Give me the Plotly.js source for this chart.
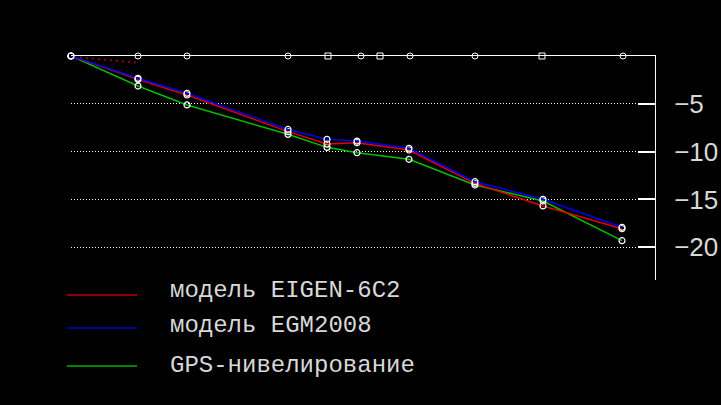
<!DOCTYPE html>
<html>
<head>
<meta charset="utf-8">
<script src="https://cdn.plot.ly/plotly-3.0.1.min.js"></script>
<style>html,body{margin:0;padding:0;background:#000;}#chart{width:721px;height:405px;}</style>
</head>
<body>
<div id="chart"></div>
<script>
// Station positions along the profile (arbitrary distance units)
const stationX = [0, 6.7, 11.6, 21.7, 25.7, 29.0, 30.9, 33.9, 40.4, 47.1, 55.2];
const stationY = [0, 0, 0, 0, 0, 0, 0, 0, 0, 0, 0];
const stationSymbols = ['circle-open','circle-open','circle-open','circle-open','square-open','circle-open','square-open','circle-open','circle-open','square-open','circle-open'];

// Profile points
const pointX = [0, 6.7, 11.6, 21.7, 25.6, 28.6, 33.8, 40.4, 47.2, 55.1];
const eigen6c2 = [0, -2.44, -4.08, -7.91, -9.20, -9.06, -9.83, -13.33, -15.68, -18.06];
const egm2008  = [0, -2.33, -3.90, -7.68, -8.71, -8.89, -9.65, -13.14, -14.98, -17.91];
const gpsLevel = [0, -3.14, -5.12, -8.19, -9.55, -10.11, -10.80, -13.49, -15.16, -19.31];

// small dotted fragment near the start
const fragX = [0.9, 6.7];
const fragY = [-0.14, -0.70];

const seriesNames = ['модель EIGEN-6C2', 'модель EGM2008', 'GPS-нивелирование'];
const seriesColors = ['#e00000', '#0000ee', '#00c000'];
const legendColors = ['#c00000', '#0000c0', '#00b000'];

const tickVals = [-5, -10, -15, -20];
const tickText = ['\u22125', '\u221210', '\u221215', '\u221220'];

const markerStyle = {symbol: 'circle-open', size: 6, color: '#ffffff', line: {width: 1.2, color: '#ffffff'}};

const traces = [
  {x: stationX, y: stationY, mode: 'markers', cliponaxis: false, showlegend: false,
   marker: {symbol: stationSymbols, size: 6, color: '#ffffff', line: {width: 1, color: '#ffffff'}}, hoverinfo: 'skip'},
  {x: fragX, y: fragY, mode: 'lines', showlegend: false,
   line: {color: '#900000', width: 2, dash: '2px,4px'}, hoverinfo: 'skip'},
  {x: pointX, y: gpsLevel, name: seriesNames[2], mode: 'lines+markers', cliponaxis: false,
   line: {color: seriesColors[2], width: 1.5}, marker: markerStyle},
  {x: pointX, y: eigen6c2, name: seriesNames[0], mode: 'lines+markers', cliponaxis: false,
   line: {color: seriesColors[0], width: 1.5}, marker: markerStyle},
  {x: pointX, y: egm2008, name: seriesNames[1], mode: 'lines+markers', cliponaxis: false,
   line: {color: seriesColors[1], width: 1.5}, marker: markerStyle}
];

// Legend drawn below the plot
const legendY = [-0.067, -0.214, -0.384];
const legendTextOffset = [0.02, 0.011, 0.002];
const shapes = [];
const annotations = [];
for (let i = 0; i < 3; i++) {
  shapes.push({type: 'line', xref: 'paper', yref: 'paper', x0: -0.007, x1: 0.113,
    y0: legendY[i], y1: legendY[i], line: {color: legendColors[i], width: 1.5}});
  annotations.push({xref: 'paper', yref: 'paper', x: 0.166, y: legendY[i] + legendTextOffset[i],
    xanchor: 'left', yanchor: 'middle', showarrow: false, text: seriesNames[i],
    font: {family: 'Liberation Mono, DejaVu Sans Mono, monospace', size: 24, color: '#d8d8d8'}});
}

const layout = {
  width: 721, height: 405,
  paper_bgcolor: '#000000', plot_bgcolor: '#000000',
  margin: {l: 71, r: 66, t: 56, b: 125, pad: 0},
  showlegend: false,
  xaxis: {range: [0, 58.4], side: 'top', showline: true, linecolor: '#ffffff', linewidth: 1,
    showgrid: false, zeroline: false, showticklabels: false, ticks: '', fixedrange: true},
  yaxis: {range: [-23.42, 0], side: 'right', showline: true, linecolor: '#ffffff', linewidth: 1,
    showgrid: true, gridcolor: '#ffffff', gridwidth: 1, griddash: '1px,2px',
    zeroline: false, ticks: 'inside', ticklen: 17, tickwidth: 2, tickcolor: '#ffffff',
    tickvals: tickVals, ticktext: tickText, ticklabelstandoff: 13,
    tickfont: {family: 'Liberation Sans, Arial, sans-serif', size: 26, color: '#d8d8d8'}, fixedrange: true},
  shapes: shapes,
  annotations: annotations
};

Plotly.newPlot('chart', traces, layout, {staticPlot: true, displayModeBar: false});
</script>
</body>
</html>
